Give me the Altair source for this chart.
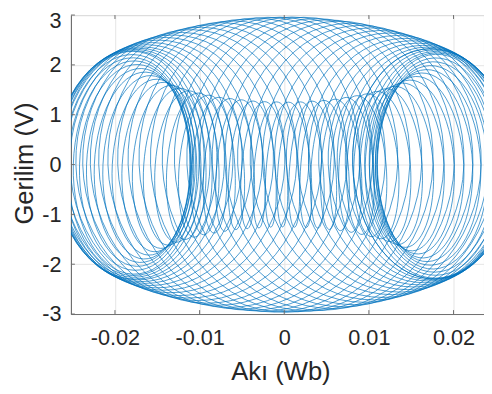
import altair as alt
import numpy as np
import pandas as pd

alt.data_transformers.disable_max_rows()

# Per-loop ellipse parameters (successive loops of the trajectory)
loop_cx = [0.01793, 0.01707, 0.01526, 0.01262, 0.00927, 0.00541, 0.00126, -0.00297, -0.00703, -0.01071,
           -0.01379, -0.01611, -0.01754, -0.01800, -0.01747, -0.01597, -0.01358, -0.01045, -0.00674, -0.00266,
           0.00157, 0.00571, 0.00954, 0.01284, 0.01543, 0.01717, 0.01796, 0.01775, 0.01657, 0.01447,
           0.01157, 0.00803, 0.00405, -0.00016, -0.00435, -0.00831, -0.01181, -0.01465, -0.01669, -0.01780,
           -0.01793, -0.01707, -0.01526, -0.01262, -0.00927, -0.00541, -0.00126, 0.00297, 0.00703, 0.01071,
           0.01379, 0.01611, 0.01754, 0.01800, 0.01747, 0.01597, 0.01358, 0.01045, 0.00674, 0.00266,
           -0.00157, -0.00571, -0.00954, -0.01284, -0.01543, -0.01717, -0.01796, -0.01775, -0.01657, -0.01447,
           -0.01157, -0.00803, -0.00405, 0.00016, 0.00435, 0.00831, 0.01181, 0.01465, 0.01669, 0.01780,
           0.01793, 0.01707]
loop_ax = [0.00861, 0.01022, 0.01171, 0.01299, 0.01400, 0.01468, 0.01498, 0.01490, 0.01444, 0.01363,
           0.01250, 0.01112, 0.00958, 0.00794, 0.00643, 0.00500, 0.00374, 0.00271, 0.00197, 0.00157,
           0.00152, 0.00184, 0.00249, 0.00344, 0.00465, 0.00605, 0.00755, 0.00916, 0.01073, 0.01216,
           0.01336, 0.01426, 0.01482, 0.01500, 0.01479, 0.01421, 0.01328, 0.01206, 0.01062, 0.00903,
           0.00743, 0.00594, 0.00456, 0.00336, 0.00243, 0.00180, 0.00152, 0.00159, 0.00202, 0.00277,
           0.00382, 0.00510, 0.00654, 0.00806, 0.00969, 0.01123, 0.01259, 0.01370, 0.01449, 0.01492,
           0.01497, 0.01464, 0.01394, 0.01291, 0.01161, 0.01010, 0.00849, 0.00693, 0.00546, 0.00413,
           0.00302, 0.00218, 0.00167, 0.00150, 0.00169, 0.00223, 0.00309, 0.00423, 0.00557, 0.00704,
           0.00861, 0.01022]
loop_ay = [2.28, 2.34, 2.47, 2.63, 2.78, 2.91, 2.97, 2.95, 2.86, 2.72,
           2.56, 2.41, 2.31, 2.26, 2.02, 1.80, 1.60, 1.44, 1.32, 1.26,
           1.25, 1.30, 1.41, 1.56, 1.74, 1.96, 2.20, 2.29, 2.38, 2.52,
           2.68, 2.83, 2.93, 2.97, 2.93, 2.82, 2.67, 2.51, 2.37, 2.29,
           2.18, 1.95, 1.73, 1.54, 1.40, 1.30, 1.25, 1.26, 1.33, 1.45,
           1.61, 1.82, 2.04, 2.27, 2.31, 2.42, 2.57, 2.73, 2.87, 2.95,
           2.96, 2.90, 2.77, 2.61, 2.46, 2.33, 2.27, 2.10, 1.87, 1.66,
           1.49, 1.36, 1.28, 1.25, 1.28, 1.37, 1.50, 1.68, 1.89, 2.12,
           2.28, 2.34]

x_ticks = [-0.02, -0.01, 0, 0.01, 0.02]
y_ticks = [-3, -2, -1, 0, 1, 2, 3]
x_domain = [-0.0252, 0.0236]
y_domain = [-3, 3]

# trace each loop as an ellipse drifting from one loop's parameters to the next
pts_per_loop = 60
xs, ys = [], []
for k in range(len(loop_cx) - 1):
    for j in range(pts_per_loop):
        u = j / pts_per_loop
        phi = 2 * np.pi * u
        c = loop_cx[k] + (loop_cx[k + 1] - loop_cx[k]) * u
        a = loop_ax[k] + (loop_ax[k + 1] - loop_ax[k]) * u
        h = loop_ay[k] + (loop_ay[k + 1] - loop_ay[k]) * u
        xs.append(c + a * np.cos(phi))
        ys.append(-h * np.sin(phi))
xs.append(loop_cx[-1] + loop_ax[-1])
ys.append(0.0)
df = pd.DataFrame({"i": np.arange(len(xs)), "x": xs, "y": ys})

W, H = 420, 304
FONT = "Liberation Sans"
TXT = "#262626"
AX = "#6e6e6e"
label_expr = "datum.value < 0 ? '-' + format(-datum.value, '~g') : format(datum.value, '~g')"

xscale = alt.Scale(domain=x_domain, nice=False, zero=False)
yscale = alt.Scale(domain=y_domain, nice=False, zero=False)

xaxis = alt.Axis(values=x_ticks, title="Akı (Wb)", labelExpr=label_expr, grid=True,
                 gridColor="#e4e4e4", gridWidth=1, ticks=False, domain=True, domainColor=AX,
                 labelFont=FONT, labelFontSize=22, labelColor=TXT, labelPadding=14,
                 labelFlush=False, labelOverlap=False, labelBound=False,
                 titleFont=FONT, titleFontSize=26, titleFontWeight="normal", titleColor=TXT,
                 titleX=213, titleY=67, titleAlign="center", titleBaseline="alphabetic")
yaxis = alt.Axis(values=y_ticks, title="Gerilim (V)", labelExpr=label_expr, grid=True,
                 gridColor="#e4e4e4", gridWidth=1, ticks=False, domain=True, domainColor=AX,
                 labelFont=FONT, labelFontSize=22, labelColor=TXT, labelPadding=10,
                 labelOffset=alt.condition("datum.value == 3", alt.value(6), alt.value(0)),
                 labelFlush=False, labelOverlap=False, labelBound=False,
                 titleFont=FONT, titleFontSize=26, titleFontWeight="normal", titleColor=TXT,
                 titleX=-39, titleY=150.5, titleAngle=270, titleAlign="center",
                 titleBaseline="alphabetic")

line = alt.Chart(df).mark_line(color="#0072BD", strokeWidth=0.7, clip=True).encode(
    x=alt.X("x:Q", scale=xscale, axis=xaxis),
    y=alt.Y("y:Q", scale=yscale, axis=yaxis),
    order="i:Q",
)

xt = pd.DataFrame({"x": x_ticks})
yt = pd.DataFrame({"y": y_ticks})
tick_bottom = alt.Chart(xt).mark_rule(color=AX, strokeWidth=1).encode(
    x=alt.X("x:Q", scale=xscale), y=alt.value(H), y2=alt.value(H - 4))
tick_top = alt.Chart(xt).mark_rule(color=AX, strokeWidth=1).encode(
    x=alt.X("x:Q", scale=xscale), y=alt.value(0), y2=alt.value(4))
tick_left = alt.Chart(yt).mark_rule(color=AX, strokeWidth=1).encode(
    y=alt.Y("y:Q", scale=yscale), x=alt.value(0), x2=alt.value(4))

chart = alt.layer(line, tick_bottom, tick_top, tick_left).properties(
    width=W, height=H,
    autosize=alt.AutoSizeParams(type="none"),
    padding={"left": 64, "top": 4, "right": 0, "bottom": 70},
    background="white",
).configure_view(stroke=AX, strokeWidth=1)

chart.save("out.html", embed_options={"renderer": "svg", "actions": False})
